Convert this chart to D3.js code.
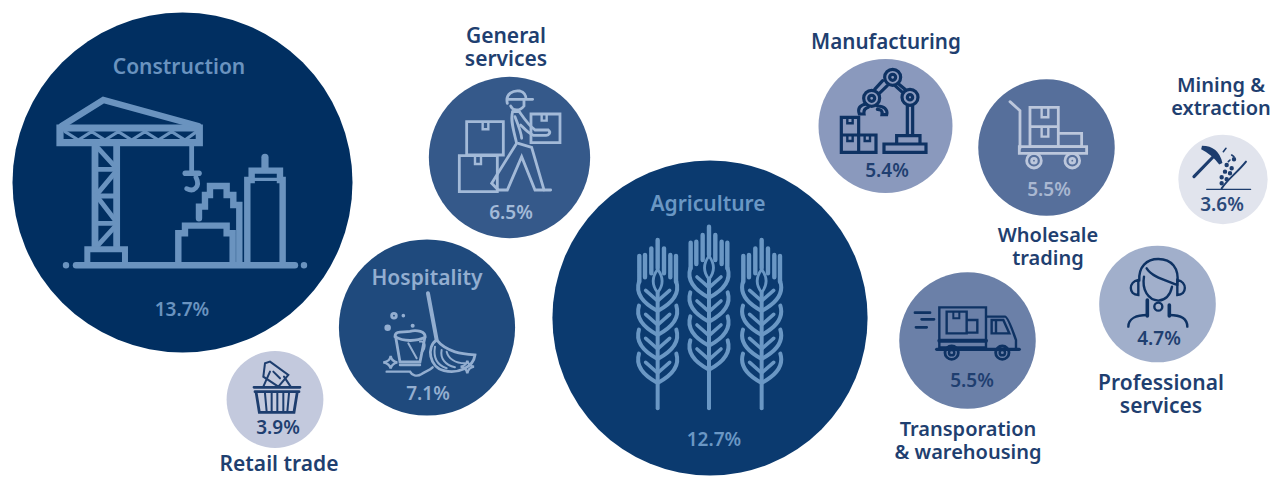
<!DOCTYPE html>
<meta charset="utf-8">
<head>
    <title>Share by sector</title>
    <script src="https://d3js.org/d3.v7.min.js"></script>
</head>

<style>
    html, body { margin: 0; background: #fff; }
    svg { display: block; }
    text { font-family: "Noto Sans", sans-serif; font-weight: 600; text-anchor: middle; }
    .icon path { fill: none; stroke-linecap: round; stroke-linejoin: miter; }
</style>

<svg></svg>

<script>
    var vWidth = 1272;
    var vHeight = 477;

    // values
    var sectors = ["Construction", "Agriculture", "Hospitality", "General services", "Manufacturing",
        "Wholesale trading", "Transporation & warehousing", "Professional services", "Retail trade", "Mining & extraction"];
    var shares = [13.7, 12.7, 7.1, 6.5, 5.4, 5.5, 5.5, 4.7, 3.9, 3.6];
    var labelLines = [["Construction"], ["Agriculture"], ["Hospitality"], ["General", "services"], ["Manufacturing"],
        ["Wholesale", "trading"], ["Transporation", "& warehousing"], ["Professional", "services"], ["Retail trade"], ["Mining &", "extraction"]];

    // where each bubble sits, its fill, ink colours and text anchors (not data)
    var layout = {
        "Construction": {cx: 182.5, cy: 182.5, fill: "#012f61", ink: "#6a93bf", text: "#6a93bf", lx: 179, ly: 74, fs: 21, px: 182, py: 316},
        "Agriculture": {cx: 710, cy: 318, fill: "#0b3a6f", ink: "#6a97c4", text: "#6a97c4", lx: 708, ly: 211, fs: 21, px: 714, py: 446},
        "Hospitality": {cx: 427, cy: 327.5, fill: "#1f4a7d", ink: "#93aed0", text: "#93aed0", lx: 427, ly: 285, fs: 21, px: 428, py: 400},
        "General services": {cx: 509.5, cy: 157.5, fill: "#35598a", ink: "#a3bad8", text: "#a3bad8", lx: 506, ly: 43, fs: 21, px: 511, py: 219},
        "Manufacturing": {cx: 885.5, cy: 126, fill: "#8a99bd", ink: "#0e3263", text: "#1f3f70", lx: 886, ly: 49, fs: 20.6, px: 887, py: 177},
        "Wholesale trading": {cx: 1046.5, cy: 147.5, fill: "#566f9b", ink: "#bcc7dc", text: "#a9b7d1", lx: 1048, ly: 242, fs: 20, px: 1049, py: 196},
        "Transporation & warehousing": {cx: 967.5, cy: 340.5, fill: "#6b80a8", ink: "#0e3263", text: "#1f3f70", lx: 968, ly: 436, fs: 20, px: 972, py: 387},
        "Professional services": {cx: 1157.5, cy: 304, fill: "#a1afcb", ink: "#0e3263", text: "#1f3f70", lx: 1161, ly: 390, fs: 21, px: 1159, py: 345},
        "Retail trade": {cx: 275, cy: 399.5, fill: "#c3c9dd", ink: "#1d3d6e", text: "#1f3f70", lx: 279, ly: 471, fs: 21, px: 278, py: 434},
        "Mining & extraction": {cx: 1223, cy: 179.5, fill: "#e1e4ed", ink: "#1d3d6e", text: "#2b4a7a", lx: 1221, ly: 92, fs: 20, px: 1222, py: 211}
    };
    var labelInk = "#1f3f70";
    var inkWeight = 1.2;

    function box(x0, y0, x1, y1) { return "M" + x0 + "," + y0 + "H" + x1 + "V" + y1 + "H" + x0 + "Z"; }
    function ring(x, y, r) { return "M" + (x - r) + "," + y + "a" + r + "," + r + " 0 1,0 " + 2 * r + ",0a" + r + "," + r + " 0 1,0 " + -2 * r + ",0"; }

    // wheat ear, local coordinates: tip at 0,0 and stem running down to `end`
    function wheat(x, tip, end) {
        var parts = [[11, "M0,0V85M-19,25V100M19,25V100M-38,45V112M38,45V112M-55,48V125M55,48V125"],
            [7, "M0,88C-18,112 -18,135 0,158C18,135 18,112 0,88Z"],
            [10, "M0,158V" + (end - tip)]];
        [0, 72, 144, 216].forEach(function (dy) {
            var y = 125 + dy;
            parts.push([10, "M-56," + y + "C-70," + (y + 45) + " -30," + (y + 72) + " 0," + (y + 88)
                + "M56," + y + "C70," + (y + 45) + " 30," + (y + 72) + " 0," + (y + 88)]);
            parts.push([9, "M0," + (y + 58) + "L-36," + (y + 26) + "M0," + (y + 58) + "L36," + (y + 26)]);
        });
        return parts.map(function (p) { return {w: p[0], d: p[1], x: x, y: tip}; });
    }

    // icon strokes, written at 3x in the frame of a crop whose corner is `at`
    var icons = {
        "Construction": {at: [0, 0], parts: [
            [18, box(180, 384, 598, 428)],
            [16, "M185,378L310,300L595,378"],
            [8, "M195,395L235,420L275,395L315,420L355,395L395,420L435,395L475,420L515,395L555,420L590,395"],
            [17, "M285,432V745M350,432V745"],
            [12, "M285,508H350M285,588H350M285,670H350"],
            [12, "M295,445L345,500M345,518L295,578M295,595L345,660M345,680L295,735"],
            [15, box(262, 748, 375, 795)],
            [16, "M228,796H885"],
            [16, "M198,796h0.1M912,796h0.1"],
            [12, "M575,435V515"],
            [14, "M556,520H597"],
            [12, "M588,532C602,560 582,578 560,566"],
            [16, "M535,790V700H555V677H680V700H698V790"],
            [16, "M597,655V620H615V585H630V558H680V585H700V615H718V790"],
            [16, "M742,790V540H755V512H840V540H848V790"],
            [18, "M795,472V508"],
            [8, "M755,538H840"]
        ]},
        "Agriculture": {at: [620, 180], parts: wheat(113, 180, 685).concat(wheat(267, 140, 685), wheat(425, 180, 685))},
        "Hospitality": {at: [220, 230], parts: [
            [10, "M624,190L650,330"],
            [7, "M650,330C618,350 628,412 672,422C715,432 760,412 765,375C730,372 680,368 650,330Z"],
            [5, "M645,350C640,380 650,405 680,415M665,360C660,385 675,405 705,412M680,365C685,385 705,400 735,400"],
            [7, "M527,320L540,396H600L615,320"],
            [7, "M525,320C525,300 550,308 570,304C590,298 618,305 615,322C590,335 550,335 525,320Z"],
            [5, "M565,340L590,385M600,335C615,330 620,350 605,368"],
            [7, ring(522, 257, 7)],
            [9, "M550,257h0.1"],
            [8, ring(503, 293, 5)],
            [10, "M578,287h0.1"],
            [6, "M490,397C505,395 510,390 512,378C514,390 520,395 532,397C520,400 514,405 512,416C510,405 505,400 490,397Z"],
            [6, "M722,410C735,408 740,403 742,392C744,403 750,408 762,410C750,412 744,418 742,430C740,418 735,412 722,410Z"],
            [6, "M500,425H570C575,435 590,442 605,432C615,425 630,420 638,412"],
            [6, "M540,405H600"]
        ]},
        "General services": {at: [420, 10], parts: [
            [7, box(140, 335, 250, 435)],
            [7, box(118, 437, 232, 545)],
            [7, box(333, 312, 420, 398)],
            [6, "M188,337V358H205V337M165,439V462H183V439M365,314V332H380V314"],
            [7, "M262,280C255,250 280,240 300,243C315,247 318,258 318,268H338M262,268H318"],
            [7, "M272,288C278,302 298,306 312,288V270"],
            [7, "M278,305C270,330 282,365 290,400L215,520L235,540H262L305,440L345,540H392"],
            [7, "M278,305H298C310,322 325,345 345,360H385C395,368 385,378 375,376H340C325,370 312,355 302,345"],
            [7, "M295,400L335,412L372,540M285,320C295,345 305,370 305,385"]
        ]},
        "Manufacturing": {at: [800, 20], parts: [
            [8, ring(278, 172, 24) + ring(278, 172, 9) + ring(215, 235, 24) + ring(215, 235, 9) + ring(330, 232, 24) + ring(330, 232, 8)],
            [8, "M248,182L224,208M262,197L238,220M296,192L315,208M285,197L305,215"],
            [8, "M322,258V345M338,258V345"],
            [8, box(290, 347, 360, 372) + box(252, 372, 378, 397)],
            [8, "M198,252C180,255 172,265 178,282H192C190,270 195,265 205,262M232,258C252,258 264,268 260,284H246C248,272 242,268 232,268"],
            [8, box(124, 292, 176, 345) + box(124, 345, 176, 397) + box(176, 345, 228, 397)],
            [6, "M142,294V310H158V294M142,347V363H158V347M194,347V363H210V347"]
        ]},
        "Wholesale trading": {at: [800, 20], parts: [
            [7, "M630,245L660,272V385"],
            [7, box(658, 380, 860, 400)],
            [7, box(690, 262, 775, 320) + box(690, 320, 775, 380) + box(775, 340, 845, 380)],
            [6, "M725,265V292H745V265M725,322V350H745V322"],
            [7, ring(702, 422, 22) + ring(817, 422, 22)],
            [7, ring(702, 422, 7) + ring(817, 422, 7)]
        ]},
        "Transporation & warehousing": {at: [890, 270], parts: [
            [6, box(148, 112, 288, 232)],
            [10, "M148,212H288"],
            [6, box(170, 125, 230, 190) + box(230, 150, 262, 188)],
            [5, "M190,127V145H208V127"],
            [6, "M290,140H345C355,140 372,195 378,210V238H290"],
            [6, "M305,150H340L358,190H305ZM318,150V190"],
            [8, "M140,238H388"],
            [7, "M75,128H120M95,148H132M78,172H110"],
            [7, ring(185, 248, 20) + ring(337, 248, 20)],
            [6, ring(185, 248, 8) + ring(337, 248, 8)]
        ]},
        "Professional services": {at: [1090, 60], parts: [
            [6, "M148,662C145,620 170,597 205,597C245,597 268,625 262,670"],
            [6, "M170,625C185,650 225,660 262,675"],
            [6, "M162,650C155,690 175,720 205,722C222,720 240,710 246,680"],
            [6, "M145,660C115,665 115,705 145,705ZM262,660C292,665 292,705 262,705Z"],
            [6, ring(205, 740, 12)],
            [9, "M172,720V768M238,735V768"],
            [6, "M115,800C115,775 140,765 172,765M238,765C270,765 292,775 292,800"]
        ]},
        "Retail trade": {at: [220, 230], parts: [
            [7, "M102,472H240M105,485H237M108,485L118,547H222L232,485"],
            [5, "M135,490L140,545M155,490V545M172,490V545M190,490V545M207,490L202,545"],
            [5, "M150,395L205,435L175,470L130,440L135,400Z"],
            [5, "M130,470L150,425M212,470L192,440M160,425L180,445"]
        ]},
        "Mining & extraction": {at: [1090, 60], parts: [
            [8, "M312,350L372,288"],
            [9, "M336,263C365,263 385,280 392,310C375,288 358,274 336,263Z"],
            [5, "M395,385C420,350 440,340 468,305"],
            [3, "M350,388H482"],
            [4, "M400,275L408,265M425,285L432,290M415,305L420,300"],
            [11, "M410,315h0.1M425,325h0.1M405,335h0.1M420,340h0.1M395,352h0.1M410,358h0.1M395,370h0.1M432,298h0.1"]
        ]}
    };

    var svg = d3.select('svg').attr('width', vWidth).attr('height', vHeight);

    // bubble radius runs straight with the share
    var radius = d3.scaleLinear().domain([0, d3.max(shares)]).range([0, 170]);

    var rows = sectors.map(function (name, i) {
        return {name: name, share: shares[i], lines: labelLines[i], place: layout[name]};
    });

    svg.append('g').selectAll('circle').data(rows).enter().append('circle')
        .attr('cx', function (d) { return d.place.cx; })
        .attr('cy', function (d) { return d.place.cy; })
        .attr('r', function (d) { return radius(d.share); })
        .attr('fill', function (d) { return d.place.fill; });

    // icons
    svg.append('g').selectAll('g').data(rows).enter().append('g')
        .attr('class', 'icon')
        .attr('transform', function (d) {
            var at = icons[d.name].at;
            return 'translate(' + at[0] + ',' + at[1] + ') scale(0.3333)';
        })
        .each(function (d) {
            d3.select(this).selectAll('path').data(icons[d.name].parts).enter().append('path')
                .attr('d', function (p) { return p.d || p[1]; })
                .attr('transform', function (p) { return p.d ? 'translate(' + p.x + ',' + p.y + ')' : null; })
                .attr('stroke-width', function (p) { return (p.w || p[0]) * inkWeight; })
                .attr('stroke', d.place.ink);
        });

    // sector names, inside big bubbles and outside small ones
    svg.append('g').selectAll('text').data(rows).enter().append('text')
        .attr('y', function (d) { return d.place.ly; })
        .attr('font-size', function (d) { return d.place.fs; })
        .attr('fill', function (d) { return d.share > 7 ? d.place.text : labelInk; })
        .each(function (d) {
            d3.select(this).selectAll('tspan').data(d.lines).enter().append('tspan')
                .attr('x', d.place.lx)
                .attr('y', function (t, i) { return d.place.ly + i * 23; })
                .text(function (t) { return t; });
        });

    svg.append('g').selectAll('text').data(rows).enter().append('text')
        .attr('x', function (d) { return d.place.px; })
        .attr('y', function (d) { return d.place.py; })
        .attr('font-size', 19)
        .attr('fill', function (d) { return d.place.text; })
        .text(function (d) { return d.share.toFixed(1) + '%'; });
</script>
